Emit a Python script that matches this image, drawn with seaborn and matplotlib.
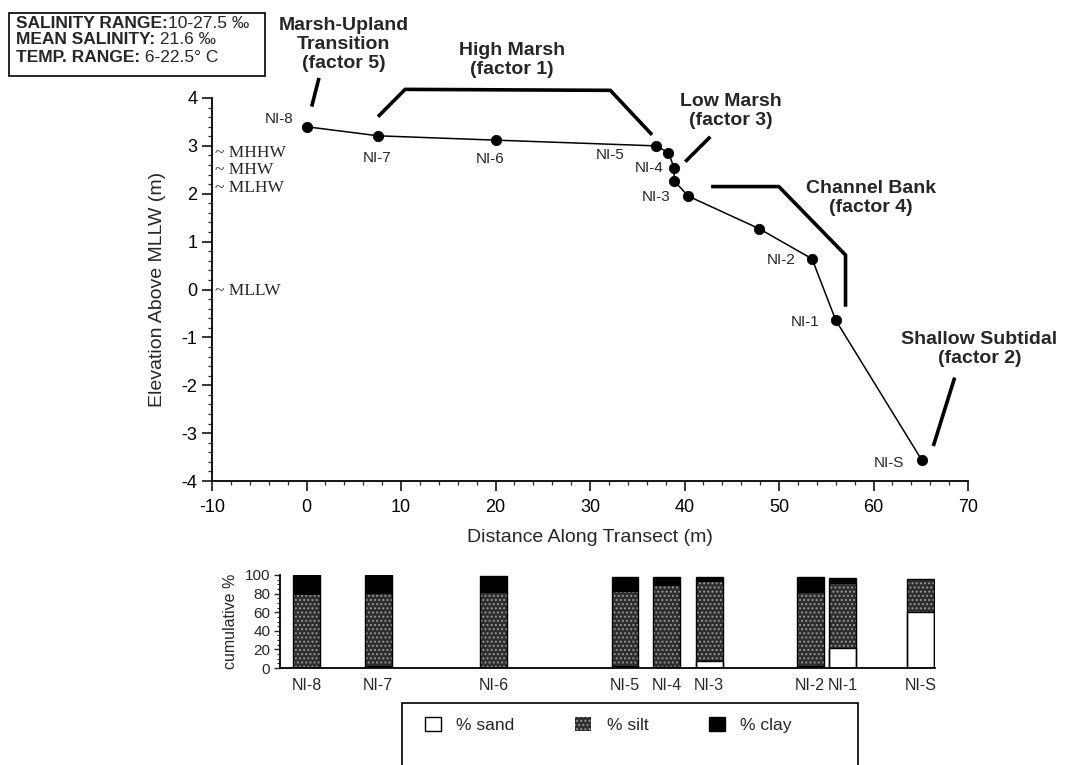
import matplotlib
matplotlib.use("Agg")
import matplotlib.pyplot as plt
import matplotlib.patches as mpatches
from matplotlib.ticker import MultipleLocator
import seaborn as sns

# ============================================================
# 1. DATA
# ============================================================

# elevation profile along the transect
dist = [0, 7.6, 20.0, 37.0, 38.3, 38.9, 38.9, 40.4, 47.9, 53.5, 56.0, 65.1]
elev = [3.40, 3.21, 3.12, 3.00, 2.86, 2.54, 2.27, 1.95, 1.27, 0.64, -0.64, -3.56]
point_names = ["NI-8", "NI-7", "NI-6", "NI-5", "", "NI-4", "", "NI-3", "", "NI-2", "NI-1", "NI-S"]

# tidal datums
tide_names = ["~ MHHW", "~ MHW", "~ MLHW", "~ MLLW"]
tide_levels = [2.86, 2.49, 2.13, -0.03]

# sediment composition (cumulative %)
stations = ["NI-8", "NI-7", "NI-6", "NI-5", "NI-4", "NI-3", "NI-2", "NI-1", "NI-S"]
bar_pos = [0, 7.6, 19.8, 33.7, 38.1, 42.6, 53.3, 56.7, 65.0]
sand = [0, 2, 0, 2, 1, 7, 2, 21, 60]
sand_silt = [79, 80, 81, 82, 88, 93, 81, 90, 95]
total = [100, 100, 99, 98, 97.5, 97.5, 97.5, 96.5, 95.5]

zone_names = ["Marsh-Upland\nTransition\n(factor 5)", "High Marsh\n(factor 1)",
              "Low Marsh\n(factor 3)", "Channel Bank\n(factor 4)",
              "Shallow Subtidal\n(factor 2)"]

info_keys = ["SALINITY RANGE:", "MEAN SALINITY:", "TEMP. RANGE:"]
info_vals = ["10-27.5 \u2030", " 21.6 \u2030", " 6-22.5\u00b0 C"]

# ============================================================
# 2. STYLE
# ============================================================

sns.set_theme(style="ticks")
plt.rcParams["font.family"] = ["Liberation Sans", "DejaVu Sans"]
plt.rcParams["axes.unicode_minus"] = False
plt.rcParams["hatch.linewidth"] = 0.9
plt.rcParams["xtick.direction"] = "out"
plt.rcParams["ytick.direction"] = "out"

W, H = 1065, 765
fig = plt.figure(figsize=(W / 100, H / 100), dpi=100)


def px(x, y):
    return (x / W, 1 - y / H)


# ============================================================
# 3. ELEVATION PROFILE
# ============================================================

ax = fig.add_axes([212 / W, 1 - 481 / H, (968 - 212) / W, (481 - 98) / H])

sns.lineplot(x=dist, y=elev, estimator=None, sort=False, color="black",
             lw=1.1, ax=ax)
sns.scatterplot(x=dist, y=elev, color="black", s=55, edgecolor="black",
                zorder=3, ax=ax)

ax.set_xlim(-10, 70)
ax.set_ylim(-4, 4)
ax.xaxis.set_major_locator(MultipleLocator(10))
ax.xaxis.set_minor_locator(MultipleLocator(2))
ax.yaxis.set_major_locator(MultipleLocator(1))
ax.yaxis.set_minor_locator(MultipleLocator(0.2))
ax.tick_params(which="major", length=7, width=1.1, labelsize=13, colors="black")
ax.tick_params(which="minor", length=3, width=0.9)
ax.tick_params(axis="x", which="major", pad=6)
sns.despine(ax=ax)
for s in ["left", "bottom"]:
    ax.spines[s].set_linewidth(1.3)
    ax.spines[s].set_color("black")
ax.set_xlabel("Distance Along Transect (m)", fontsize=14, labelpad=9)
ax.set_ylabel("Elevation Above MLLW (m)", fontsize=14, labelpad=11)

# station labels (offset in pixels from the point)
offsets = {"NI-8": (-27, 8), "NI-7": (-1, -22), "NI-6": (-5, -19),
           "NI-5": (-46, -9), "NI-4": (-25, 0), "NI-3": (-32, -1),
           "NI-2": (-31, -1), "NI-1": (-31, -2), "NI-S": (-33, -3)}
for x, y, name in zip(dist, elev, point_names):
    if name:
        ax.annotate(name, (x, y), xytext=offsets[name], textcoords="offset pixels",
                    ha="center", va="center", fontsize=11)

# tidal datums
for name, lvl in zip(tide_names, tide_levels):
    ax.text(-9.7, lvl, name, family=["Liberation Serif", "DejaVu Serif"],
            fontsize=12.5, va="center", ha="left")

# zone labels and brackets
zone_text = [(3.9, 5.12), (21.7, 4.80), (44.9, 3.72), (59.7, 1.92), (71.2, -1.24)]
zone_lines = [
    [(0.55, 3.82), (1.32, 4.42)],
    [(7.57, 3.61), (10.43, 4.18), (32.15, 4.16), (36.57, 3.23)],
    [(40.08, 2.67), (42.73, 3.19)],
    [(42.82, 2.15), (49.98, 2.15), (57.04, 0.72), (57.04, -0.36)],
    [(66.33, -3.27), (68.59, -1.84)],
]
for name, (tx, ty), line in zip(zone_names, zone_text, zone_lines):
    ax.text(tx, ty, name, ha="center", va="center", fontsize=14,
            fontweight="bold", linespacing=1.15, clip_on=False)
    ax.plot([p[0] for p in line], [p[1] for p in line], color="black",
            lw=2.6, solid_capstyle="butt", clip_on=False)

# ============================================================
# 4. INFO BOX
# ============================================================

fig.add_artist(mpatches.Rectangle(px(9, 76), 256 / W, 63 / H, transform=fig.transFigure,
                                  fill=False, edgecolor="black", lw=1.2))
for i, (k, v) in enumerate(zip(info_keys, info_vals)):
    t = fig.text(*px(16, 23 + 17 * i), k, fontsize=12.5, fontweight="bold",
                 ha="left", va="center")
    ax.annotate(v, xy=(1, 0), xycoords=t, va="bottom", ha="left",
                fontsize=12.5, annotation_clip=False)

# ============================================================
# 5. SEDIMENT BARS
# ============================================================

bx = fig.add_axes([280 / W, 1 - 668 / H, 655 / W, 93 / H])
bw = 2.85 / 3.4

sns.barplot(x=bar_pos, y=total, native_scale=True, width=bw, color="black",
            saturation=1, errorbar=None, linewidth=0, ax=bx)
sns.barplot(x=bar_pos, y=sand_silt, native_scale=True, width=bw, color="#2e2e2e",
            saturation=1, errorbar=None, edgecolor="#9a9a9a", hatch="....",
            linewidth=0, ax=bx)
sns.barplot(x=bar_pos, y=sand, native_scale=True, width=bw, color="white",
            saturation=1, errorbar=None, edgecolor="black", linewidth=1, ax=bx)
sns.barplot(x=bar_pos, y=total, native_scale=True, width=bw, color="black",
            saturation=1, errorbar=None, fill=False, linewidth=1, ax=bx)

bx.set_xlim(-2.8, 66.5)
bx.set_ylim(0, 100)
bx.set_xticks(bar_pos)
bx.set_xticklabels(stations, fontsize=11.5)
bx.tick_params(axis="x", length=0, pad=7)
bx.yaxis.set_major_locator(MultipleLocator(20))
bx.yaxis.set_minor_locator(MultipleLocator(5))
bx.tick_params(axis="y", which="major", length=4, width=1, labelsize=11, pad=3)
bx.tick_params(axis="y", which="minor", length=2, width=0.8)
bx.set_xlabel("")
bx.set_ylabel("cumulative %", fontsize=11.5, labelpad=5)
sns.despine(ax=bx)
for s in ["left", "bottom"]:
    bx.spines[s].set_linewidth(1.3)
    bx.spines[s].set_color("black")

# ============================================================
# 6. LEGEND
# ============================================================

handles = [
    mpatches.Patch(facecolor="white", edgecolor="black", lw=1, label="% sand"),
    mpatches.Patch(facecolor="#2e2e2e", edgecolor="#9a9a9a", hatch="....", lw=0,
                   label="% silt"),
    mpatches.Patch(facecolor="black", edgecolor="black", label="% clay"),
]
fig.legend(handles=handles, ncol=3, loc="center left", bbox_to_anchor=px(425, 725),
           frameon=False, fontsize=12.5, handlelength=0.9, handleheight=0.9,
           handletextpad=0.9, columnspacing=3.5, borderpad=0, borderaxespad=0)
fig.add_artist(mpatches.Rectangle(px(402, 790), 456 / W, 87 / H, transform=fig.transFigure,
                                  fill=False, edgecolor="black", lw=1.2))

fig.savefig("out.png", dpi=100)
